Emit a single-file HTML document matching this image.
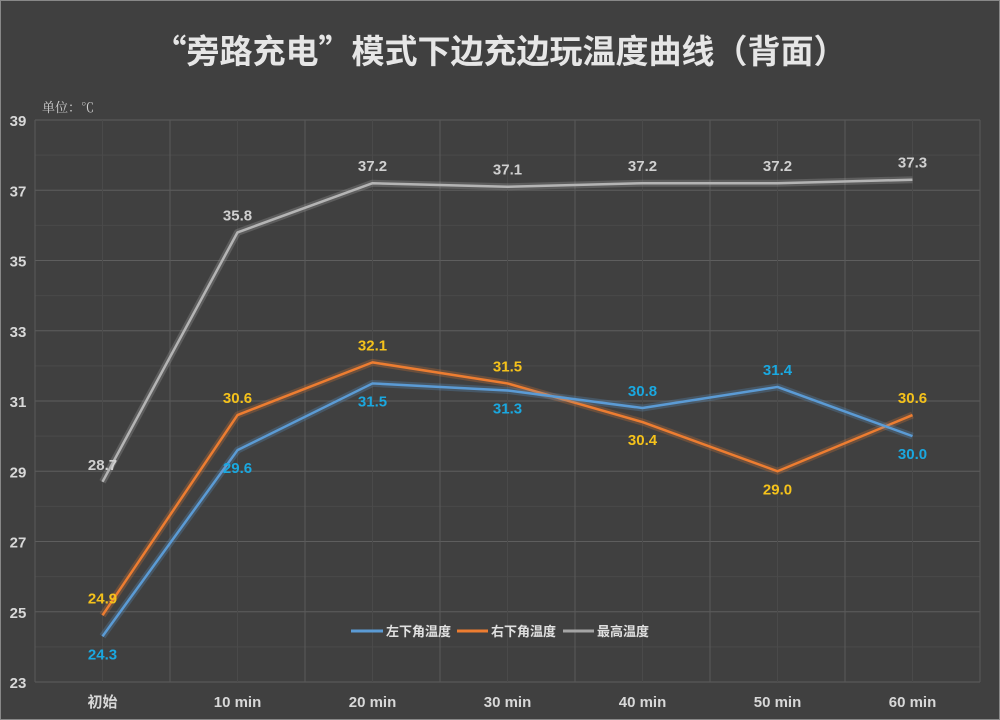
<!DOCTYPE html>
<html><head><meta charset="utf-8">
<style>
html,body{margin:0;padding:0;background:#404040;}
svg{display:block;font-family:"Liberation Sans","Noto Sans CJK SC",sans-serif;}
</style></head>
<body>
<svg id="chart" width="1000" height="720" viewBox="0 0 1000 720">
<rect x="0" y="0" width="1000" height="720" fill="#404040" stroke="#888" stroke-width="2"/>
<text x="500" y="63" text-anchor="middle" font-size="33" font-weight="bold" fill="#e6e6e6" font-family="'Noto Sans CJK SC',sans-serif">“旁路充电”模式下边充边玩温度曲线（背面）</text>
<text x="42" y="112" font-size="13" fill="#d0d0d0" font-family="'Noto Serif CJK SC',serif">单位：℃</text>
<g id="grid"></g><g id="axes"></g><g id="series"></g><g id="labels"></g>
<g>
<line x1="351" y1="631" x2="383" y2="631" stroke="#5b9bd5" stroke-width="3"/>
<text x="386" y="636" font-size="13" font-weight="bold" fill="#e0e0e0" font-family="'Noto Sans CJK SC',sans-serif">左下角温度</text>
<line x1="457" y1="631" x2="488" y2="631" stroke="#ed7d31" stroke-width="3"/>
<text x="491" y="636" font-size="13" font-weight="bold" fill="#e0e0e0" font-family="'Noto Sans CJK SC',sans-serif">右下角温度</text>
<line x1="563" y1="631" x2="594" y2="631" stroke="#a5a5a5" stroke-width="3"/>
<text x="597" y="636" font-size="13" font-weight="bold" fill="#e0e0e0" font-family="'Noto Sans CJK SC',sans-serif">最高温度</text>
</g>
</svg>
<script>
const categories=["初始","10 min","20 min","30 min","40 min","50 min","60 min"];
const leftVals=[24.3,29.6,31.5,31.3,30.8,31.4,30.0];
const rightVals=[24.9,30.6,32.1,31.5,30.4,29.0,30.6];
const maxVals=[28.7,35.8,37.2,37.1,37.2,37.2,37.3];
const yTicks=[23,25,27,29,31,33,35,37,39];
const NS="http://www.w3.org/2000/svg";
const L=35,R=980,T=120,B=682,yMin=23,yMax=39;
const step=(R-L)/categories.length;
function xs(i){return L+step*(i+0.5);}
function ys(v){return B-(v-yMin)/(yMax-yMin)*(B-T);}
function mk(p,tag,attrs){const e=document.createElementNS(NS,tag);for(const k in attrs)e.setAttribute(k,attrs[k]);p.appendChild(e);return e;}
const grid=document.getElementById('grid'),axes=document.getElementById('axes'),ser=document.getElementById('series'),lab=document.getElementById('labels');
for(let v=yMin;v<=yMax;v++){
  const g=mk(grid,'line',{x1:L,x2:R,y1:ys(v),y2:ys(v),stroke:(v%2===1)?'#5e5e5e':'#4a4a4a','stroke-width':1});
  
  
}
for(let i=0;i<=categories.length;i++){
  const g=mk(grid,'line',{x1:L+step*i,x2:L+step*i,y1:T,y2:B,stroke:'#5a5a5a','stroke-width':1});
  
  
  if(i<categories.length){
    const m=mk(grid,'line',{x1:xs(i),x2:xs(i),y1:T,y2:B,stroke:'#4a4a4a','stroke-width':1});
    
    
  }
}
yTicks.forEach(v=>{
  const t=mk(axes,'text',{x:18,y:ys(v)+6,'text-anchor':'middle','font-size':15,'font-weight':'bold',fill:'#d8d8d8'});
  t.textContent=v;
  
  
});
categories.forEach((c,i)=>{
  const t=mk(axes,'text',{x:xs(i),y:707,'text-anchor':'middle','font-size':15,'font-weight':'bold',fill:'#d8d8d8','font-family':"'Liberation Sans','Noto Sans CJK SC',sans-serif"});
  t.textContent=c;
  
  
});
function line(vals,color,name){
  const pts=vals.map((v,i)=>xs(i)+','+ys(v)).join(' ');
  const glow=mk(ser,'polyline',{points:pts,fill:'none',stroke:color,'stroke-width':7,'stroke-opacity':0.25,'stroke-linejoin':'round'});
  
  
  const p=mk(ser,'polyline',{points:pts,fill:'none',stroke:color,'stroke-width':2.5,'stroke-linejoin':'round'});
  
  
}
line(maxVals,'#b4b4b4','max-temp-line');
line(rightVals,'#ed7d31','right-temp-line');
line(leftVals,'#5b9bd5','left-temp-line');
function label(i,v,color,above,name){
  const t=mk(lab,'text',{x:xs(i),y:above?ys(v)-12:ys(v)+23,'text-anchor':'middle','font-size':15,'font-weight':'bold',fill:color});
  t.textContent=v.toFixed(1);
  
  
}
maxVals.forEach((v,i)=>label(i,v,'#d0d0d0',true,'max-value-label'));
leftVals.forEach((v,i)=>{const a=v>rightVals[i];label(i,v,'#1aa8e0',a,'left-value-label');label(i,rightVals[i],'#f5c21b',!a,'right-value-label');});
</script>
</body></html>
